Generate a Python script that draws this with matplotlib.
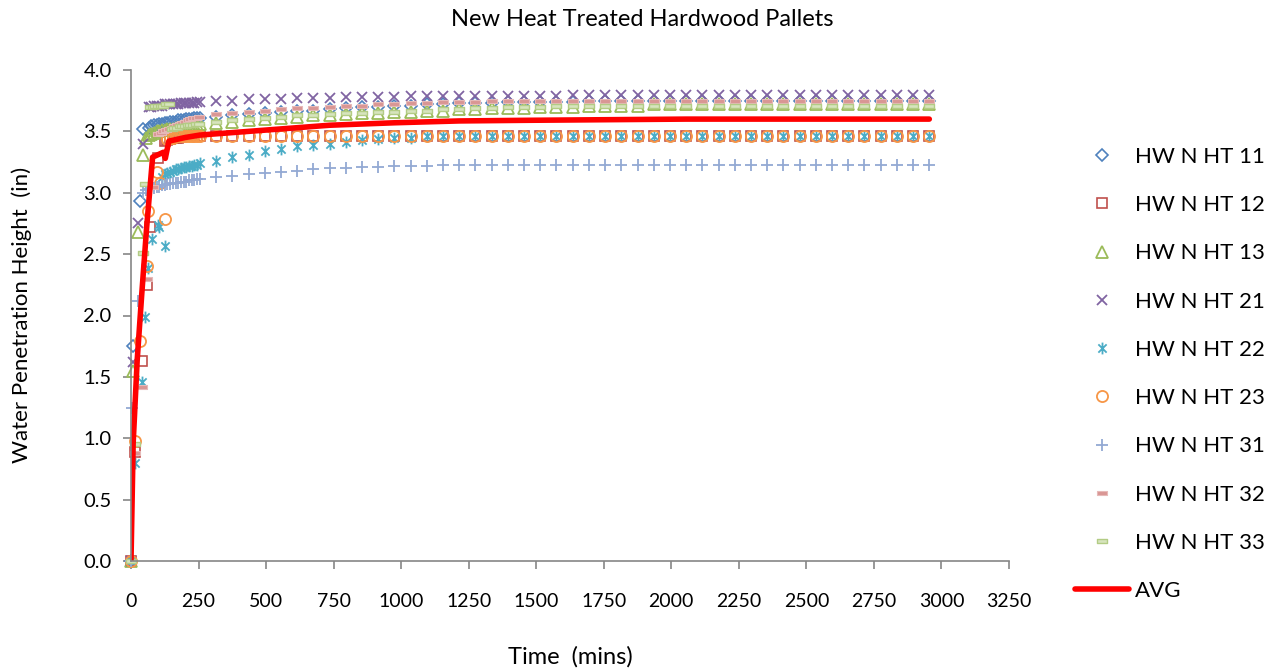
import matplotlib
matplotlib.use('Agg')

import matplotlib.pyplot as plt
from matplotlib.path import Path

plt.rcParams['font.family'] = ['Lato', 'DejaVu Sans']

# Shared time grid after the dense early readings (mins)
LATE_T = list(range(315, 2956, 60))

# ---- HW N HT 11 ----
hw11_t = [0, 8, 33, 45] + list(range(65, 256, 10))
hw11_v = [0.00, 1.75, 2.93, 3.52,
          3.53, 3.54, 3.55, 3.55, 3.56, 3.56, 3.57, 3.57, 3.58, 3.58,
          3.58, 3.59, 3.59, 3.59, 3.60, 3.60, 3.60, 3.61, 3.61, 3.61]
hw11_late = [3.62, 3.63, 3.64, 3.65, 3.66, 3.67, 3.67, 3.68, 3.69, 3.70,
             3.70, 3.71, 3.71, 3.72, 3.72, 3.73, 3.73, 3.73, 3.74, 3.74,
             3.74, 3.74, 3.74, 3.75, 3.75, 3.75, 3.75, 3.75, 3.75, 3.75,
             3.75, 3.75, 3.75, 3.75, 3.75, 3.75, 3.75, 3.75, 3.75, 3.75,
             3.75, 3.75, 3.75, 3.75, 3.75]

# ---- HW N HT 12 ----
hw12_t = [0, 15, 41, 59, 70, 101] + list(range(125, 256, 10))
hw12_v = [0.00, 0.89, 1.63, 2.25, 2.72, 3.28,
          3.42, 3.43, 3.44, 3.45, 3.45, 3.45, 3.46, 3.46, 3.46, 3.46,
          3.46, 3.46, 3.46, 3.46]
hw12_late = [3.46, 3.46, 3.46, 3.46, 3.46, 3.46, 3.46, 3.46, 3.46, 3.46,
             3.46, 3.46, 3.46, 3.46, 3.46, 3.46, 3.46, 3.46, 3.46, 3.46,
             3.46, 3.46, 3.46, 3.46, 3.46, 3.46, 3.46, 3.46, 3.46, 3.46,
             3.46, 3.46, 3.46, 3.46, 3.46, 3.46, 3.46, 3.46, 3.46, 3.46,
             3.46, 3.46, 3.46, 3.46, 3.46]

# ---- HW N HT 13 ----
hw13_t = [0, 8, 26, 45, 55] + list(range(65, 256, 10))
hw13_v = [0.00, 1.55, 2.68, 3.31, 3.45,
          3.47, 3.48, 3.49, 3.50, 3.50, 3.51, 3.51, 3.52, 3.52, 3.52,
          3.53, 3.53, 3.53, 3.54, 3.54, 3.54, 3.55, 3.55, 3.55, 3.56]
hw13_late = [3.57, 3.58, 3.59, 3.60, 3.61, 3.62, 3.63, 3.63, 3.64, 3.65,
             3.65, 3.66, 3.66, 3.67, 3.67, 3.68, 3.68, 3.69, 3.69, 3.69,
             3.70, 3.70, 3.70, 3.71, 3.71, 3.71, 3.71, 3.72, 3.72, 3.72,
             3.72, 3.72, 3.72, 3.72, 3.72, 3.72, 3.72, 3.72, 3.72, 3.72,
             3.72, 3.72, 3.72, 3.72, 3.72]

# ---- HW N HT 21 ----
hw21_t = [0, 8, 26, 45] + list(range(65, 256, 10))
hw21_v = [0.00, 1.62, 2.75, 3.40,
          3.70, 3.70, 3.71, 3.71, 3.71, 3.71, 3.72, 3.72, 3.72, 3.72,
          3.72, 3.72, 3.73, 3.73, 3.73, 3.73, 3.73, 3.73, 3.74, 3.74]
hw21_late = [3.75, 3.75, 3.76, 3.76, 3.76, 3.77, 3.77, 3.77, 3.78, 3.78,
             3.78, 3.78, 3.79, 3.79, 3.79, 3.79, 3.79, 3.79, 3.79, 3.79,
             3.79, 3.79, 3.80, 3.80, 3.80, 3.80, 3.80, 3.80, 3.80, 3.80,
             3.80, 3.80, 3.80, 3.80, 3.80, 3.80, 3.80, 3.80, 3.80, 3.80,
             3.80, 3.80, 3.80, 3.80, 3.80]

# ---- HW N HT 22 ----
hw22_t = [0, 15, 40, 52, 63, 77, 101, 105, 126] + list(range(115, 256, 10))
hw22_v = [0.00, 0.80, 1.46, 1.99, 2.39, 2.62, 2.74, 2.72, 2.57,
          3.13, 3.15, 3.16, 3.17, 3.18, 3.19, 3.19, 3.20, 3.21, 3.21,
          3.22, 3.22, 3.23, 3.23, 3.24]
hw22_late = [3.26, 3.29, 3.31, 3.34, 3.36, 3.38, 3.39, 3.40, 3.41, 3.43,
             3.44, 3.45, 3.45, 3.46, 3.46, 3.46, 3.46, 3.46, 3.46, 3.46,
             3.46, 3.46, 3.46, 3.46, 3.46, 3.46, 3.46, 3.46, 3.46, 3.46,
             3.46, 3.46, 3.46, 3.46, 3.46, 3.46, 3.46, 3.46, 3.46, 3.46,
             3.46, 3.46, 3.46, 3.46, 3.46]

# ---- HW N HT 23 ----
hw23_t = [0, 15, 33, 58, 64, 95, 107, 126] + list(range(135, 256, 10))
hw23_v = [0.00, 0.98, 1.79, 2.40, 2.85, 3.17, 3.08, 2.79,
          3.44, 3.45, 3.45, 3.46, 3.46, 3.46, 3.46, 3.46, 3.46, 3.46,
          3.46, 3.46, 3.46]
hw23_late = [3.46, 3.46, 3.46, 3.46, 3.46, 3.46, 3.46, 3.46, 3.46, 3.46,
             3.46, 3.46, 3.46, 3.46, 3.46, 3.46, 3.46, 3.46, 3.46, 3.46,
             3.46, 3.46, 3.46, 3.46, 3.46, 3.46, 3.46, 3.46, 3.46, 3.46,
             3.46, 3.46, 3.46, 3.46, 3.46, 3.46, 3.46, 3.46, 3.46, 3.46,
             3.46, 3.46, 3.46, 3.46, 3.46]

# ---- HW N HT 31 ----
hw31_t = [0, 3, 27, 45] + list(range(55, 256, 10))
hw31_v = [0.00, 1.25, 2.12, 3.00,
          3.02, 3.03, 3.04, 3.04, 3.05, 3.05, 3.06, 3.06, 3.07, 3.07,
          3.08, 3.08, 3.08, 3.09, 3.09, 3.09, 3.10, 3.10, 3.10, 3.11, 3.11]
hw31_late = [3.13, 3.14, 3.15, 3.16, 3.17, 3.18, 3.19, 3.20, 3.20, 3.21,
             3.21, 3.22, 3.22, 3.22, 3.23, 3.23, 3.23, 3.23, 3.23, 3.23,
             3.23, 3.23, 3.23, 3.23, 3.23, 3.23, 3.23, 3.23, 3.23, 3.23,
             3.23, 3.23, 3.23, 3.23, 3.23, 3.23, 3.23, 3.23, 3.23, 3.23,
             3.23, 3.23, 3.23, 3.23, 3.23]

# ---- HW N HT 32 ----
hw32_t = [0, 15, 40, 60, 80] + list(range(100, 256, 10))
hw32_v = [0.00, 0.88, 1.42, 2.30, 3.05,
          3.48, 3.49, 3.50, 3.51, 3.52, 3.53, 3.54, 3.55, 3.56, 3.57,
          3.58, 3.59, 3.60, 3.61, 3.61, 3.62]
hw32_late = [3.64, 3.65, 3.66, 3.67, 3.68, 3.69, 3.69, 3.70, 3.71, 3.71,
             3.72, 3.72, 3.73, 3.73, 3.74, 3.74, 3.74, 3.75, 3.75, 3.75,
             3.75, 3.75, 3.75, 3.75, 3.75, 3.75, 3.75, 3.75, 3.75, 3.75,
             3.75, 3.75, 3.75, 3.75, 3.75, 3.75, 3.75, 3.75, 3.75, 3.75,
             3.75, 3.75, 3.75, 3.75, 3.75]

# ---- HW N HT 33 ----
hw33_t = [0, 15, 45, 50] + list(range(70, 141, 10)) + list(range(150, 251, 10))
hw33_v = [0.00, 0.95, 2.51, 3.07,
          3.70, 3.70, 3.71, 3.71, 3.71, 3.71, 3.72, 3.72,
          3.52, 3.53, 3.53, 3.54, 3.54, 3.54, 3.55, 3.55, 3.55, 3.56, 3.56]
hw33_late = [3.58, 3.59, 3.60, 3.61, 3.62, 3.63, 3.63, 3.64, 3.65, 3.65,
             3.66, 3.66, 3.67, 3.67, 3.68, 3.68, 3.69, 3.69, 3.70, 3.70,
             3.70, 3.71, 3.71, 3.71, 3.71, 3.71, 3.71, 3.71, 3.71, 3.71,
             3.71, 3.71, 3.71, 3.71, 3.71, 3.71, 3.71, 3.71, 3.71, 3.71,
             3.71, 3.71, 3.71, 3.71, 3.71]

# ---- AVG ----
avg_t = [0, 8, 23, 40, 58, 80, 100, 120, 127, 140, 160, 200, 255,
         315, 495, 735, 975, 1215, 1455, 1755, 2055, 2955]
avg_v = [0.00, 0.96, 1.64, 2.18, 2.72, 3.29, 3.31, 3.33, 3.28, 3.42, 3.43, 3.45, 3.47,
         3.48, 3.51, 3.55, 3.57, 3.585, 3.59, 3.595, 3.60, 3.60]

# Excel-like marker shapes
star = Path([(-0.7, -0.7), (0.7, 0.7), (-0.7, 0.7), (0.7, -0.7), (0, -1), (0, 1)],
            [Path.MOVETO, Path.LINETO] * 3)
dash = Path([(-1, -0.38), (1, -0.38), (1, 0.38), (-1, 0.38), (-1, -0.38)],
            [Path.MOVETO, Path.LINETO, Path.LINETO, Path.LINETO, Path.CLOSEPOLY])

series = [
    ('HW N HT 11', hw11_t, hw11_v, hw11_late,
     dict(marker='D', ms=6.2, mfc='none', mec='#4F81BD', mew=1.2)),
    ('HW N HT 12', hw12_t, hw12_v, hw12_late,
     dict(marker='s', ms=7.5, mfc='none', mec='#C0504D', mew=1.2)),
    ('HW N HT 13', hw13_t, hw13_v, hw13_late,
     dict(marker='^', ms=8, mfc='none', mec='#9BBB59', mew=1.3)),
    ('HW N HT 21', hw21_t, hw21_v, hw21_late,
     dict(marker='x', ms=7.5, mec='#8064A2', mew=1.3)),
    ('HW N HT 22', hw22_t, hw22_v, hw22_late,
     dict(marker=star, ms=8.5, mfc='none', mec='#4BACC6', mew=1.3)),
    ('HW N HT 23', hw23_t, hw23_v, hw23_late,
     dict(marker='o', ms=8, mfc='none', mec='#F79646', mew=1.3)),
    ('HW N HT 31', hw31_t, hw31_v, hw31_late,
     dict(marker='+', ms=8.5, mec='#93A9D3', mew=1.3)),
    ('HW N HT 32', hw32_t, hw32_v, hw32_late,
     dict(marker=dash, ms=7, mfc='#D99694', mec='#E6B9B8', mew=0.8)),
    ('HW N HT 33', hw33_t, hw33_v, hw33_late,
     dict(marker=dash, ms=7.5, mfc='#D7E4BD', mec='#B3CC85', mew=1.0)),
]

fig = plt.figure(figsize=(12.79, 6.72), dpi=100)
ax = fig.add_axes([131 / 1279, 111 / 672, 878 / 1279, 491 / 672])

for name, t, v, late, style in series:
    ax.plot(t + LATE_T, v + late, linestyle='none', label=name, clip_on=False, **style)

ax.plot(avg_t, avg_v, color='#FF0000', lw=4, solid_capstyle='round', label='AVG')

ax.set_xlim(0, 3250)
ax.set_ylim(0, 4.0)
ax.set_xticks(range(0, 3251, 250))
ax.set_yticks([0, 0.5, 1.0, 1.5, 2.0, 2.5, 3.0, 3.5, 4.0])
ax.set_yticklabels([f'{y:.1f}' for y in ax.get_yticks()])

for side in ['top', 'right']:
    ax.spines[side].set_visible(False)
for side in ['left', 'bottom']:
    ax.spines[side].set_color('#868686')
    ax.spines[side].set_linewidth(1.2)
ax.tick_params(axis='both', direction='out', length=6, width=1.2, color='#868686')
ax.tick_params(axis='x', labelsize=14, pad=17)
ax.tick_params(axis='y', labelsize=14.5, pad=8)

# Axis titles and chart title placed in figure pixels like the Excel layout
fig.text(570 / 1279, 1 - 657 / 672, 'Time  (mins)', ha='center', va='center', fontsize=17)
fig.text(22 / 1279, 1 - 315 / 672, 'Water Penetration Height  (in)',
         ha='center', va='center', rotation=90, fontsize=16)
fig.text(642 / 1279, 1 - 20 / 672, 'New Heat Treated Hardwood Pallets',
         ha='center', va='center', fontsize=17)

fig.legend(loc='upper left', bbox_to_anchor=(1075 / 1279, 1 - 147 / 672),
           frameon=False, fontsize=16, borderpad=0, borderaxespad=0,
           handlelength=2.45, handletextpad=0.25, labelspacing=1.27)

plt.savefig('out.png', dpi=100)
plt.close(fig)
